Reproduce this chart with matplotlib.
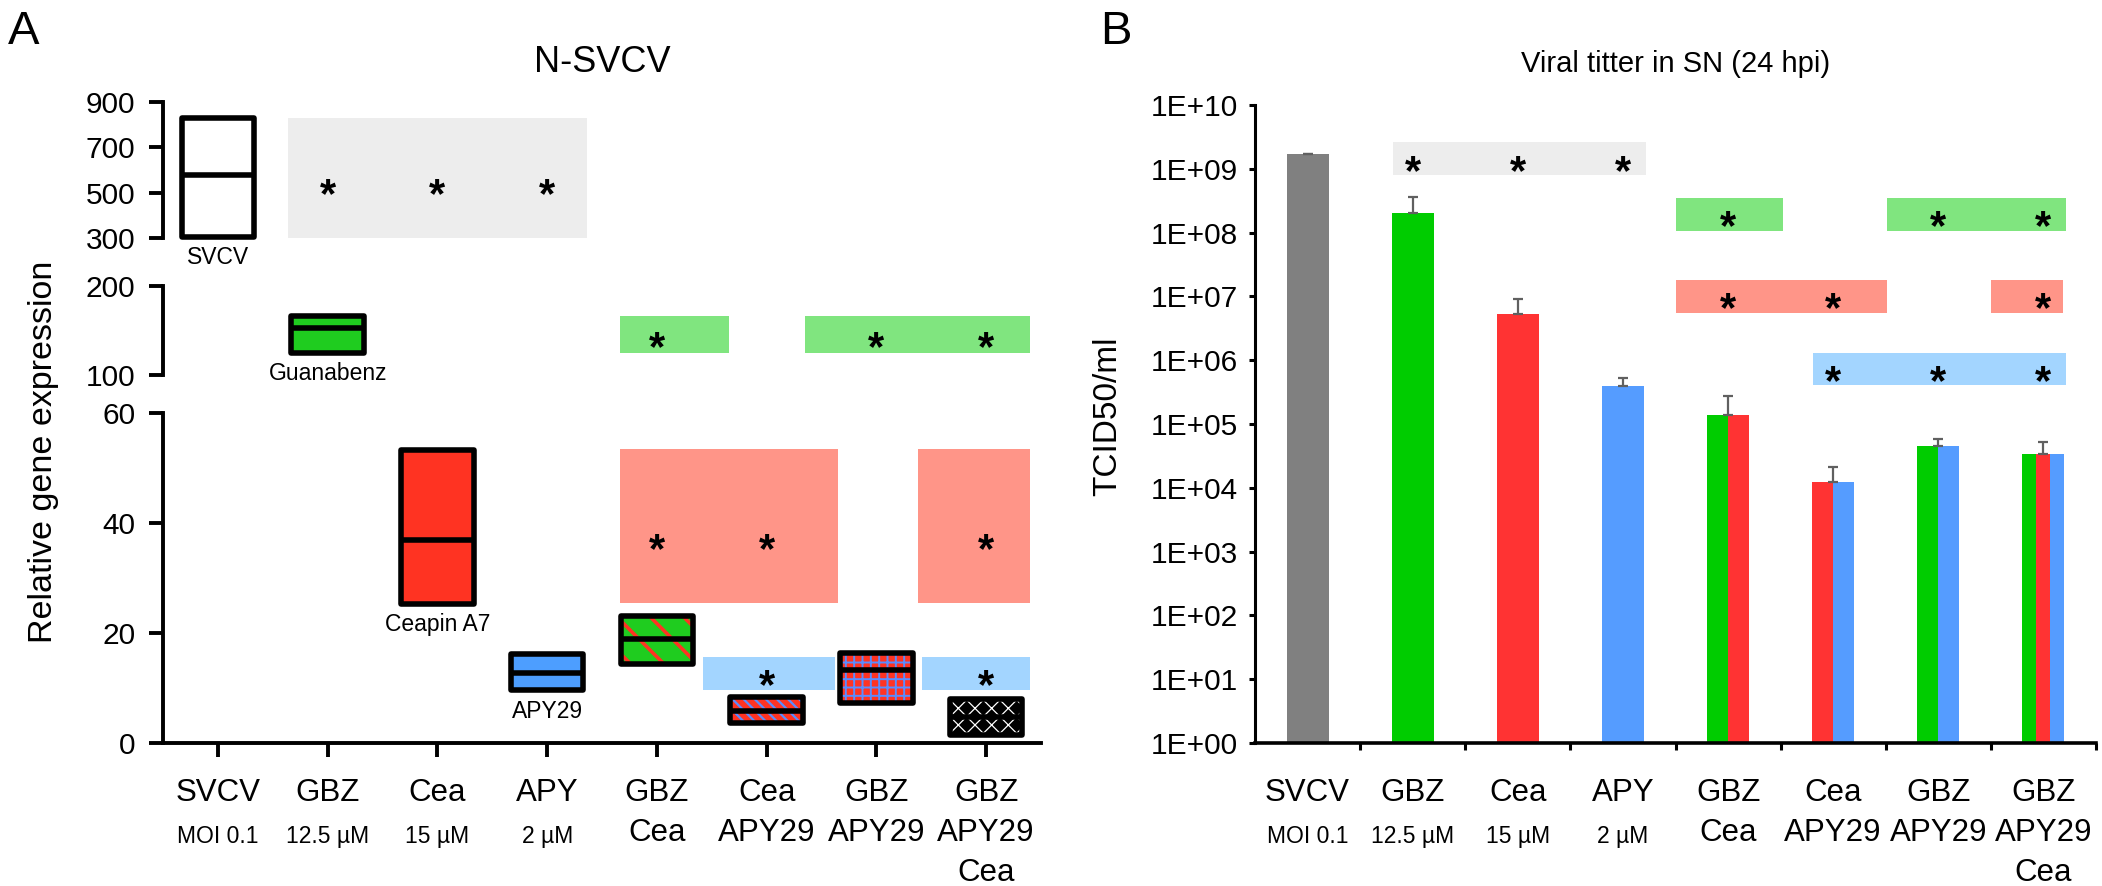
import matplotlib
matplotlib.use('Agg')
import matplotlib.pyplot as plt
from matplotlib.patches import Rectangle
from matplotlib.ticker import FixedLocator, NullLocator, FixedFormatter
import numpy as np

plt.rcParams['font.family'] = ['Liberation Sans', 'DejaVu Sans']

# ---------------- shared labels ----------------
categories = ["SVCV", "GBZ", "Cea", "APY", "GBZ\nCea", "Cea\nAPY29", "GBZ\nAPY29", "GBZ\nAPY29\nCea"]
doses = ["MOI 0.1", "12.5 µM", "15 µM", "2 µM", "", "", "", ""]

# ---------------- panel A data ----------------
box_low = [305, 125, 25.3, 9.6, 14.3, 3.6, 7.2, 1.5]
box_median = [578, 153, 37.0, 12.7, 19.0, 5.8, 13.3, 4.7]
box_high = [830, 166, 53.3, 16.2, 23.0, 8.4, 16.3, 8.0]
box_segment = [0, 1, 2, 2, 2, 2, 2, 2]      # 0: 300-900, 1: 100-200, 2: 0-60
box_names = ["SVCV", "Guanabenz", "Ceapin A7", "APY29", "", "", "", ""]

segment_limits = [(300, 900), (100, 200), (0, 60)]
segment_ticks = [[300, 500, 700, 900], [100, 200], [0, 20, 40, 60]]

a_band_segment = [0, 1, 1, 2, 2, 2, 2]
a_band_x0 = [0.64, 3.66, 5.35, 3.66, 6.38, 4.42, 6.42]
a_band_x1 = [3.36, 4.66, 7.40, 5.65, 7.40, 5.62, 7.40]
a_band_y0 = [300, 125, 125, 25.5, 25.5, 9.6, 9.6]
a_band_y1 = [830, 166, 166, 53.5, 53.5, 15.7, 15.7]
a_band_kind = ["gray", "green", "green", "red", "red", "blue", "blue"]
a_band_stars = [[1, 2, 3], [4], [6, 7], [4, 5], [7], [5], [7]]
a_star_y = [545, 145, 145, 37.5, 37.5, 12.7, 12.7]

# ---------------- panel B data ----------------
titer_mean = [1.7e9, 2.0e8, 5.3e6, 4.0e5, 1.38e5, 1.23e4, 4.6e4, 3.4e4]
titer_err = [0.03e9, 1.6e8, 3.8e6, 1.2e5, 1.4e5, 0.9e4, 1.2e4, 1.8e4]
bar_parts = [["gray"], ["green"], ["red"], ["blue"], ["green", "red"],
             ["red", "blue"], ["green", "blue"], ["green", "red", "blue"]]

b_band_x0 = [0.81, 3.50, 5.51, 3.50, 6.50, 4.81]
b_band_x1 = [3.22, 4.52, 7.21, 5.51, 7.19, 7.21]
b_band_y0 = [7.9e8, 1.05e8, 1.05e8, 5.5e6, 5.5e6, 4.1e5]
b_band_y1 = [2.6e9, 3.5e8, 3.5e8, 1.8e7, 1.8e7, 1.3e6]
b_band_kind = ["gray", "green", "green", "red", "red", "blue"]
b_band_stars = [[1, 2, 3], [4], [6, 7], [4, 5], [7], [5, 6, 7]]

band_colors = {"gray": "#EDEDED", "green": "#80E57F", "red": "#FF9588", "blue": "#A3D5FF"}
bar_colors = {"gray": "#808080", "green": "#00CC00", "red": "#FF3333", "blue": "#559CFF"}

box_face = ["white", "#1FCC1F", "#FF3322", "#4D9EFF", "#1FCC1F", "#FF3322", "#FF3322", "black"]
box_hatch = [None, None, None, None, "\\", "\\\\\\", "++", "xx"]
box_hatch_color = [None, None, None, None, "#FF3322", "#5A8CFF", "#5A8CFF", "white"]
box_hatch_lw = [1, 1, 1, 1, 2.6, 1.6, 1.4, 0.9]

W, H = 2102, 886
fig = plt.figure(figsize=(W / 100, H / 100), dpi=100)


def frac_rect(x0, ytop, x1, ybot):
    return [x0 / W, 1 - ybot / H, (x1 - x0) / W, (ybot - ytop) / H]


STAR_FS = 30


def star(ax, x, y):
    ax.annotate("*", xy=(x, y), xytext=(0, -0.60 * STAR_FS), textcoords="offset points",
                ha="center", va="baseline", fontsize=STAR_FS, fontweight="bold",
                color="black", zorder=5)


TICK_LS = 1.45

# ======================= Panel A =======================
seg_px = [(102, 238), (286, 375), (413, 743)]
axA = []
for s, (yt, yb) in enumerate(seg_px):
    ax = fig.add_axes(frac_rect(163, yt, 1041, yb))
    ax.set_xlim(-0.5, 7.5)
    ax.set_ylim(*segment_limits[s])
    ax.patch.set_alpha(0)
    for sp in ["top", "right"]:
        ax.spines[sp].set_visible(False)
    ax.spines["left"].set_linewidth(2.8)
    ax.spines["left"].set_capstyle("projecting")
    ax.yaxis.set_major_locator(FixedLocator(segment_ticks[s]))
    ax.tick_params(axis="y", direction="out", length=10, width=2.8, labelsize=21.5, pad=10)
    if s < 2:
        ax.spines["bottom"].set_visible(False)
        ax.xaxis.set_major_locator(NullLocator())
    else:
        ax.spines["bottom"].set_linewidth(2.8)
        ax.set_xticks(range(len(categories)))
        ax.set_xticklabels(categories, fontsize=22.5, linespacing=TICK_LS)
        ax.tick_params(axis="x", direction="out", length=10, width=2.8, pad=15)
    axA.append(ax)

# significance bands
for k in range(len(a_band_x0)):
    ax = axA[a_band_segment[k]]
    ax.add_patch(Rectangle((a_band_x0[k], a_band_y0[k]), a_band_x1[k] - a_band_x0[k],
                           a_band_y1[k] - a_band_y0[k], facecolor=band_colors[a_band_kind[k]],
                           edgecolor="none", zorder=1))
    for xs in a_band_stars[k]:
        star(ax, xs, a_star_y[k])

# floating boxes
HALF = 0.33
for i in range(len(categories)):
    ax = axA[box_segment[i]]
    lo, me, hi = box_low[i], box_median[i], box_high[i]
    fill = Rectangle((i - HALF, lo), 2 * HALF, hi - lo, facecolor=box_face[i],
                     edgecolor=box_hatch_color[i] if box_hatch[i] else "none",
                     linewidth=0, hatch=box_hatch[i], zorder=3)
    if box_hatch[i]:
        try:
            fill.set_hatch_linewidth(box_hatch_lw[i])
        except AttributeError:
            plt.rcParams["hatch.linewidth"] = box_hatch_lw[i]
    ax.add_patch(fill)
    ax.add_patch(Rectangle((i - HALF, lo), 2 * HALF, hi - lo, fill=False, edgecolor="black",
                           linewidth=4, joinstyle="round", zorder=4, clip_on=False))
    ax.plot([i - HALF, i + HALF], [me, me], color="black", linewidth=4, zorder=4,
            solid_capstyle="butt")
    if box_names[i]:
        ax.annotate(box_names[i], xy=(i, lo), xytext=(0, -15), textcoords="offset points",
                    ha="center", va="center", fontsize=16.5)

# dose sub-labels
for i, d in enumerate(doses):
    if d:
        axA[2].annotate(d, xy=(i, 0), xycoords=("data", "axes fraction"), xytext=(0, -67.5),
                        textcoords="offset points", ha="center", va="center", fontsize=16.5,
                        annotation_clip=False)

fig.text(602 / W, 1 - 62 / H, "N-SVCV", ha="center", va="center", fontsize=26)
fig.text(44 / W, 1 - 452 / H, "Relative gene expression", rotation=90, ha="center", va="center",
         fontsize=24.5)
fig.text(8 / W, 1 - 10 / H, "A", fontsize=34, ha="left", va="top")

# ======================= Panel B =======================
axB = fig.add_axes(frac_rect(1255, 105, 2096, 743))
axB.set_yscale("log")
axB.set_xlim(-0.5, 7.5)
axB.set_ylim(1, 1e10)
for sp in ["top", "right"]:
    axB.spines[sp].set_visible(False)
axB.spines["left"].set_linewidth(2.2)
axB.spines["bottom"].set_linewidth(2.6)

# bands
for k in range(len(b_band_x0)):
    axB.add_patch(Rectangle((b_band_x0[k], b_band_y0[k]), b_band_x1[k] - b_band_x0[k],
                            b_band_y1[k] - b_band_y0[k], facecolor=band_colors[b_band_kind[k]],
                            edgecolor="none", zorder=1))
    ymid = np.sqrt(b_band_y0[k] * b_band_y1[k])
    for xs in b_band_stars[k]:
        star(axB, xs, ymid)

BW = 0.4
for i in range(len(categories)):
    parts = bar_parts[i]
    w = BW / len(parts)
    for j, c in enumerate(parts):
        axB.bar(i - BW / 2 + j * w, titer_mean[i] - 1, width=w, bottom=1, align="edge",
                color=bar_colors[c], edgecolor="none", zorder=2)
    axB.errorbar(i, titer_mean[i], yerr=[[0], [titer_err[i]]], color="#606060",
                 elinewidth=1.6, capsize=3.5, capthick=1.6, zorder=3)

decades = list(range(0, 11))
axB.yaxis.set_major_locator(FixedLocator([10.0 ** d for d in decades]))
axB.yaxis.set_major_formatter(FixedFormatter([f"1E+{d:02d}" for d in decades]))
axB.yaxis.set_minor_locator(NullLocator())
axB.tick_params(axis="y", direction="out", length=4, width=2.2, labelsize=21.5, pad=8)

axB.set_xticks(range(len(categories)))
axB.set_xticklabels(categories, fontsize=22.5, linespacing=TICK_LS)
axB.xaxis.set_minor_locator(FixedLocator(np.arange(0.5, 8.0, 1.0)))
axB.tick_params(axis="x", which="major", length=0, pad=25)
axB.tick_params(axis="x", which="minor", direction="out", length=5, width=2.2)

for i, d in enumerate(doses):
    if d:
        axB.annotate(d, xy=(i, 0), xycoords=("data", "axes fraction"), xytext=(0, -67.5),
                     textcoords="offset points", ha="center", va="center", fontsize=16.5,
                     annotation_clip=False)

fig.text(1676 / W, 1 - 64 / H, "Viral titter in SN (24 hpi)", ha="center", va="center", fontsize=21)
fig.text(1108 / W, 1 - 416 / H, "TCID50/ml", rotation=90, ha="center", va="center", fontsize=24)
fig.text(1100 / W, 1 - 10 / H, "B", fontsize=34, ha="left", va="top")

fig.savefig("out.png", dpi=100)
